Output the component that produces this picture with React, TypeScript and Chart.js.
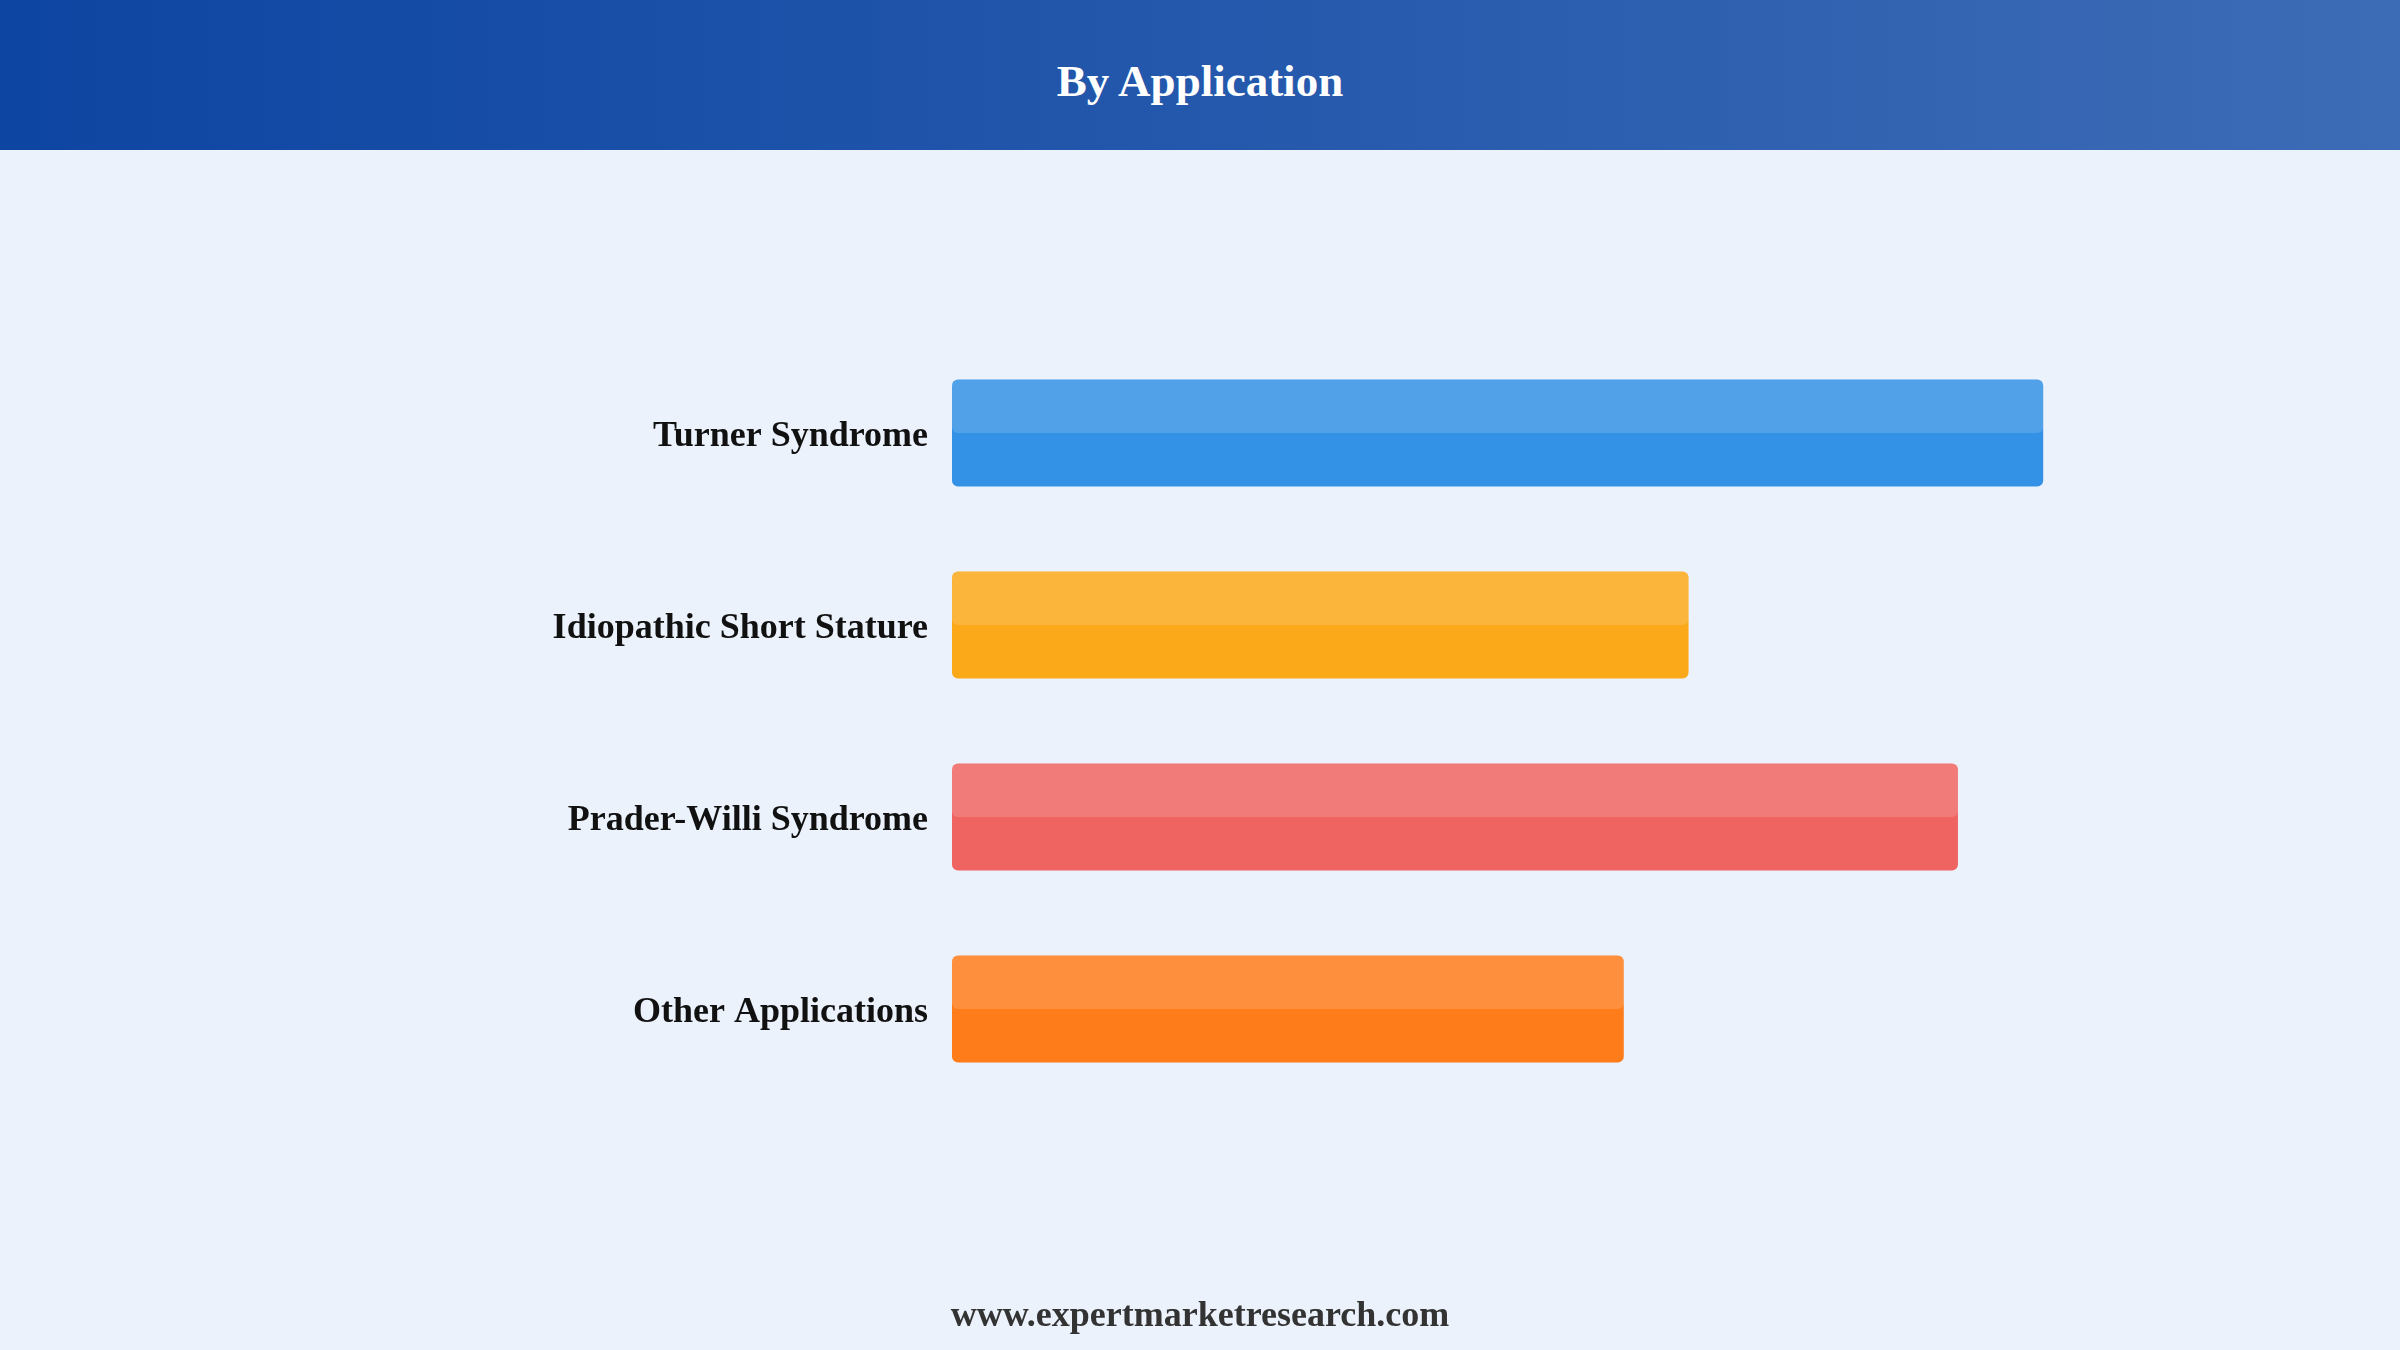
import { useEffect, useRef } from "react";
import { Chart, registerables } from "chart.js";

Chart.register(...registerables);

const categories = ["Turner Syndrome", "Idiopathic Short Stature", "Prader-Willi Syndrome", "Other Applications"];
const shares = [32, 21.6, 29.5, 19.7];
const barColors = ["#3391E6", "#FBA919", "#EF6461", "#FE7C1A"];

const FONT = "'Liberation Serif', 'Times New Roman', serif";

// light band over the top half of every bar
const highlightPlugin = {
    id: "highlight",
    afterDatasetsDraw(chart: any) {
        const ctx = chart.ctx;
        const meta = chart.getDatasetMeta(0);
        ctx.save();
        ctx.fillStyle = "rgba(255,255,255,0.15)";
        meta.data.forEach((bar: any) => {
            const { x, y, base, height } = bar.getProps(["x", "y", "base", "height"], true);
            const left = Math.min(x, base);
            const w = Math.abs(x - base);
            ctx.beginPath();
            ctx.roundRect(left, y - height / 2, w, height / 2, 6);
            ctx.fill();
        });
        ctx.restore();
    }
};

const ApplicationChart = () => {
    const chartRef = useRef<HTMLCanvasElement | null>(null);

    useEffect(() => {
        const chart = new Chart(chartRef.current!, {
            type: "bar",
            data: {
                labels: categories,
                datasets: [{
                    data: shares,
                    backgroundColor: barColors,
                    borderRadius: 6,
                    borderSkipped: false,
                    categoryPercentage: 1,
                    barPercentage: 0.557
                }]
            },
            options: {
                indexAxis: "y",
                animation: false,
                responsive: true,
                maintainAspectRatio: false,
                layout: { padding: { top: 337, bottom: 245, right: 84, left: 0 } },
                plugins: {
                    legend: { display: false },
                    tooltip: { enabled: false }
                },
                scales: {
                    x: {
                        display: false,
                        min: 0,
                        max: 40
                    },
                    y: {
                        grid: { display: false, drawTicks: false },
                        border: { display: false },
                        ticks: {
                            color: "#111111",
                            padding: 24,
                            labelOffset: 4,
                            font: { family: FONT, size: 36, weight: "bold" }
                        },
                        afterFit: (scale: any) => { scale.width = 952; }
                    }
                }
            },
            plugins: [highlightPlugin]
        });

        return () => chart.destroy();
    }, []);

    return (
        <div style={{ position: "absolute", left: 0, top: 0, width: "2400px", height: "1350px" }}>
            <canvas ref={chartRef} />
        </div>
    );
};

const App = () => {
    return (
        <div style={{
            position: "fixed", left: 0, top: 0, width: "2400px", height: "1350px",
            background: "#EBF2FC", overflow: "hidden", fontFamily: FONT
        }}>
            <div style={{
                position: "absolute", left: 0, top: 0, width: "2400px", height: "150px",
                background: "linear-gradient(90deg, #0D45A2 0%, #2458AC 50%, #3D6CB6 100%)",
                color: "#ffffff", fontWeight: "bold", fontSize: "45px", boxSizing: "border-box",
                paddingTop: "12px",
                display: "flex", alignItems: "center", justifyContent: "center"
            }}>
                By Application
            </div>
            <ApplicationChart />
            <div style={{
                position: "absolute", left: 0, top: "1291px", width: "2400px", textAlign: "center",
                color: "#333333", fontWeight: "bold", fontSize: "36px", lineHeight: "46px"
            }}>
                www.expertmarketresearch.com
            </div>
        </div>
    );
};

export default App;
